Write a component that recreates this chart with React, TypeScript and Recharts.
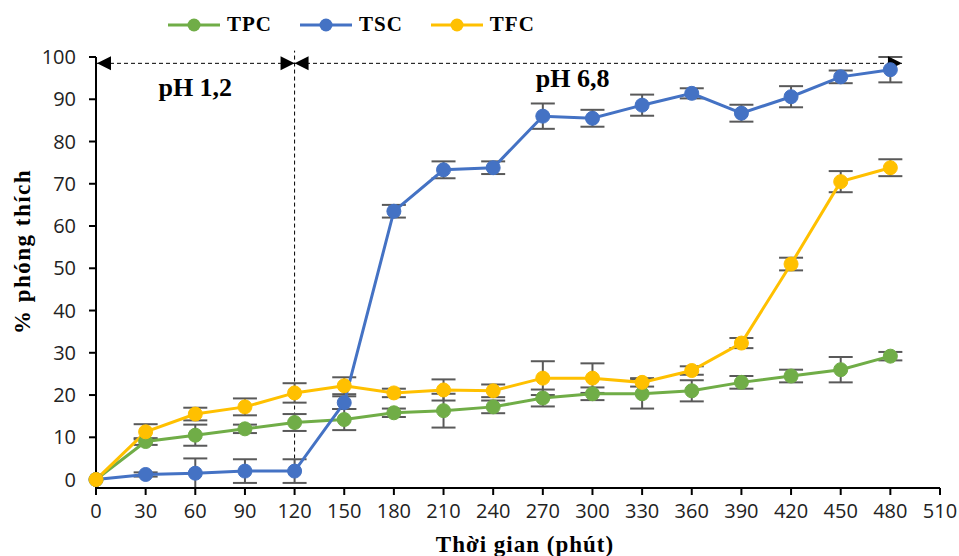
import React from "react";
import {
  LineChart,
  Line,
  XAxis,
  YAxis,
  ErrorBar,
  ReferenceLine,
  ReferenceDot,
  Legend,
  Label,
} from "recharts";

const times = [0, 30, 60, 90, 120, 150, 180, 210, 240, 270, 300, 330, 360, 390, 420, 450, 480];
const tpc = [0, 9, 10.5, 12, 13.5, 14.2, 15.8, 16.3, 17.2, 19.3, 20.3, 20.3, 21, 23, 24.5, 26, 29.2];
const tpcErr = [0, 0.8, 2.5, 1, 2, 2.5, 1, 4, 1.5, 2, 1.5, 3.5, 2.5, 1.5, 1.5, 3, 1];
const tsc = [0, 1.2, 1.5, 2, 2, 18.2, 63.5, 73.3, 73.8, 86, 85.5, 88.6, 91.4, 86.7, 90.6, 95.3, 97];
const tscErr = [0, 0.5, 3.5, 2.8, 2.8, 1.5, 1.5, 2, 1.5, 3, 2, 2.5, 1.2, 2, 2.5, 1.5, 3];
const tfc = [0, 11.3, 15.5, 17.2, 20.5, 22.2, 20.5, 21.2, 21, 24, 24, 23, 25.8, 32.3, 51, 70.5, 73.8];
const tfcErr = [0, 1.8, 1.5, 2, 2.3, 2, 1, 2.5, 1.5, 4, 3.5, 1, 1, 1.2, 1.5, 2.5, 2];

const xTicks = [0, 30, 60, 90, 120, 150, 180, 210, 240, 270, 300, 330, 360, 390, 420, 450, 480, 510];
const yTicks = [0, 10, 20, 30, 40, 50, 60, 70, 80, 90, 100];

const seriesKeys = ["tpc", "tsc", "tfc"];
const seriesNames = ["TPC", "TSC", "TFC"];
const seriesColors = ["#70AD47", "#4472C4", "#FFC000"];

const phLabels = ["pH 1,2", "pH 6,8"];
const xTitle = "Thời gian (phút)";
const yTitle = "% phóng thích";

const data = times.map((t, i) => ({
  t,
  tpc: tpc[i],
  tpcErr: tpcErr[i],
  tsc: tsc[i],
  tscErr: tscErr[i],
  tfc: tfc[i],
  tfcErr: tfcErr[i],
}));

const serif = "'Liberation Serif', 'Times New Roman', serif";
const sans = "'Open Sans', 'Noto Sans', sans-serif";
const errColor = "#595959";

const arrowShape = (dir: "left" | "right") => (props: any) => {
  const { cx, cy } = props;
  const w = 14;
  const h = 7;
  const d =
    dir === "left"
      ? `M${cx},${cy} L${cx + w},${cy - h} L${cx + w},${cy + h} Z`
      : `M${cx},${cy} L${cx - w},${cy - h} L${cx - w},${cy + h} Z`;
  return <path d={d} fill="#000" />;
};

const textShape = (txt: string) => (props: any) => {
  const { cx, cy } = props;
  return (
    <text
      x={cx}
      y={cy}
      textAnchor="middle"
      dominantBaseline="central"
      fontFamily={serif}
      fontWeight="bold"
      fontSize={26}
      fill="#000"
    >
      {txt}
    </text>
  );
};

const LegendContent = () => (
  <div style={{ display: "flex", alignItems: "center" }}>
    {seriesNames.map((n, i) => (
      <div key={n} style={{ display: "flex", alignItems: "center", marginRight: 28 }}>
        <svg width={52} height={16}>
          <line x1={0} y1={8} x2={52} y2={8} stroke={seriesColors[i]} strokeWidth={3} />
          <circle cx={26} cy={8} r={6.5} fill={seriesColors[i]} />
        </svg>
        <span
          style={{
            fontFamily: serif,
            fontWeight: "bold",
            fontSize: 21,
            marginLeft: 7,
            color: "#000",
            letterSpacing: 1,
          }}
        >
          {n}
        </span>
      </div>
    ))}
  </div>
);

const XTitle = (props: any) => {
  const vb = props.viewBox || {};
  const cx = vb.x + vb.width / 2 + 7;
  return (
    <text
      x={cx}
      y={552}
      textAnchor="middle"
      fontFamily={serif}
      fontWeight="bold"
      fontSize={23}
      letterSpacing={1}
      fill="#000"
    >
      {xTitle}
    </text>
  );
};

const YTitle = (props: any) => {
  const vb = props.viewBox || {};
  const cy = vb.y + vb.height / 2 - 21;
  const x = 30;
  return (
    <text
      x={x}
      y={cy}
      transform={`rotate(-90, ${x}, ${cy})`}
      textAnchor="middle"
      fontFamily={serif}
      fontWeight="bold"
      fontSize={23}
      letterSpacing={1.5}
      fill="#000"
    >
      {yTitle}
    </text>
  );
};

export default function App() {
  return (
    <div style={{ position: "absolute", left: 0, top: 0, width: 959, height: 556, background: "#fff" }}>
      <LineChart
        width={959}
        height={556}
        data={data}
        margin={{ top: 31, right: 19, bottom: 8, left: 36 }}
      >
        <Legend
          verticalAlign="top"
          content={<LegendContent />}
          wrapperStyle={{ position: "absolute", top: 12, left: 168, width: 420, height: 26 }}
        />
        <XAxis
          dataKey="t"
          type="number"
          domain={[0, 510]}
          ticks={xTicks}
          interval={0}
          height={60}
          tickSize={7}
          tickMargin={9}
          axisLine={{ stroke: "#000", strokeWidth: 2 }}
          tickLine={{ stroke: "#000", strokeWidth: 2 }}
          tick={{ fill: "#222", fontFamily: sans, fontSize: 20 }}
        >
          <Label content={<XTitle />} />
        </XAxis>
        <YAxis
          type="number"
          domain={[0, 100]}
          ticks={yTicks}
          interval={0}
          width={60}
          tickSize={7}
          tickMargin={13}
          axisLine={{ stroke: "#000", strokeWidth: 2 }}
          tickLine={{ stroke: "#000", strokeWidth: 2 }}
          tick={{ fill: "#222", fontFamily: sans, fontSize: 20 }}
        >
          <Label content={<YTitle />} />
        </YAxis>

        <ReferenceLine
          segment={[
            { x: 120, y: 0 },
            { x: 120, y: 101.5 },
          ]}
          stroke="#000"
          strokeWidth={1}
          strokeDasharray="4 3"
          ifOverflow="visible"
        />
        <ReferenceLine
          segment={[
            { x: 0, y: 98.5 },
            { x: 487, y: 98.5 },
          ]}
          stroke="#000"
          strokeWidth={1}
          strokeDasharray="4 3"
          ifOverflow="visible"
        />
        <ReferenceDot x={0.6} y={98.5} r={0} shape={arrowShape("left")} ifOverflow="visible" />
        <ReferenceDot x={120} y={98.5} r={0} shape={arrowShape("right")} ifOverflow="visible" />
        <ReferenceDot x={120} y={98.5} r={0} shape={arrowShape("left")} ifOverflow="visible" />
        <ReferenceDot x={487} y={98.5} r={0} shape={arrowShape("right")} ifOverflow="visible" />
        <ReferenceDot x={60} y={92.9} r={0} shape={textShape(phLabels[0])} ifOverflow="visible" />
        <ReferenceDot x={288} y={94.8} r={0} shape={textShape(phLabels[1])} ifOverflow="visible" />

        {seriesKeys.map((k, i) => (
          <Line
            key={k + "-err"}
            dataKey={k}
            stroke="none"
            dot={false}
            activeDot={false}
            legendType="none"
            isAnimationActive={false}
          >
            <ErrorBar dataKey={k + "Err"} direction="y" width={12} stroke={errColor} strokeWidth={2} />
          </Line>
        ))}
        {seriesKeys.map((k, i) => (
          <Line
            key={k}
            dataKey={k}
            name={seriesNames[i]}
            stroke={seriesColors[i]}
            strokeWidth={3}
            dot={{ r: 7, fill: seriesColors[i], stroke: seriesColors[i], strokeWidth: 1 }}
            isAnimationActive={false}
          />
        ))}
      </LineChart>
    </div>
  );
}
